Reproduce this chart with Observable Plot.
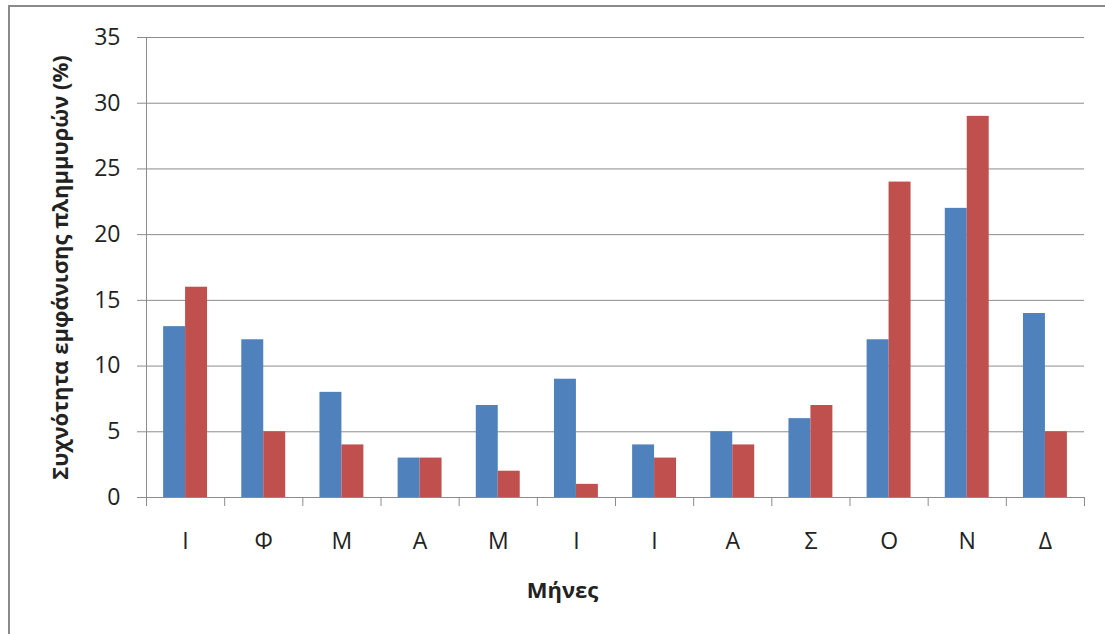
<!DOCTYPE html>
<html>
<head>
<meta charset="utf-8">
<script src="https://cdn.jsdelivr.net/npm/d3@7"></script>
<script src="https://cdn.jsdelivr.net/npm/@observablehq/plot@0.6"></script>
<style>
  html, body { margin: 0; padding: 0; background: #fff; overflow: hidden; }
  #wrap { position: relative; width: 1105px; height: 634px; }
  #border { position: absolute; left: 8px; top: 5px; width: 1200px; height: 700px; border: 2px solid #8a8a8a; box-sizing: border-box; pointer-events: none; }
  #chart { position: absolute; left: 0; top: 0; }
  #chart g[aria-label="y-axis tick label"], #chart g[aria-label="x-axis tick label"] { font-size: 23px; }
</style>
</head>
<body>
<div id="wrap"><div id="chart"></div><div id="border"></div></div>
<script>
// Data
const months = ["Ι", "Φ", "Μ", "Α", "Μ", "Ι", "Ι", "Α", "Σ", "Ο", "Ν", "Δ"];
const seriesA = [13, 12, 8, 3, 7, 9, 4, 5, 6, 12, 22, 14];   // blue
const seriesB = [16, 5, 4, 3, 2, 1, 3, 4, 7, 24, 29, 5];     // red
const yTicks = [0, 5, 10, 15, 20, 25, 30, 35];
const yLabel = "Συχνότητα εμφάνισης πλημμυρών (%)";
const xLabel = "Μήνες";

const colors = {A: "#4F81BD", B: "#C0504D"};
const barW = 0.281; // fraction of category step per bar

const rows = [];
months.forEach((m, i) => {
  rows.push({i, series: "A", value: seriesA[i]});
  rows.push({i, series: "B", value: seriesB[i]});
});
const centers = months.map((m, i) => i + 0.5);
const bounds = d3.range(0, months.length + 1);

const font = "'Open Sans', 'Noto Sans', sans-serif";

const plot = Plot.plot({
  width: 1105,
  height: 634,
  marginLeft: 146,
  marginRight: 21,
  marginTop: 37,
  marginBottom: 137,
  style: {fontFamily: font, background: "transparent", color: "#222"},
  x: {domain: [0, months.length], axis: null},
  y: {domain: [0, 35], axis: null},
  marks: [
    Plot.gridY(yTicks.slice(1), {stroke: "#8c8c8c", strokeOpacity: 1, strokeWidth: 1}),
    Plot.axisY(yTicks, {
      tickSize: 9, tickPadding: 17, fontSize: 23, stroke: "#8c8c8c", fill: "#222",
      label: yLabel, labelAnchor: "center", labelArrow: "none", labelOffset: 94
    }),
    Plot.rectY(rows, {
      x1: d => d.i + 0.5 - (d.series === "A" ? barW : 0),
      x2: d => d.i + 0.5 + (d.series === "B" ? barW : 0),
      y: "value",
      fill: d => colors[d.series]
    }),
    Plot.ruleY([0], {stroke: "#8c8c8c"}),
    Plot.ruleX([0], {stroke: "#8c8c8c"}),
    Plot.axisX(bounds, {tickSize: 9, tickFormat: () => "", stroke: "#8c8c8c", label: null}),
    Plot.axisX(centers, {tickSize: 0, tickPadding: 35, fontSize: 23, fill: "#222",
      tickFormat: v => months[Math.floor(v)], label: null}),
    Plot.text([xLabel], {text: d => d, frameAnchor: "bottom", dx: -53, dy: 100,
      fontSize: 22, fontWeight: "bold", fill: "#222"})
  ]
});
// make y-axis label bold and sized
plot.querySelectorAll("text").forEach(t => {
  if (t.textContent === yLabel) {
    t.setAttribute("font-weight", "bold");
    t.setAttribute("font-size", "22");
  }
});
document.getElementById("chart").appendChild(plot);
</script>
</body>
</html>
